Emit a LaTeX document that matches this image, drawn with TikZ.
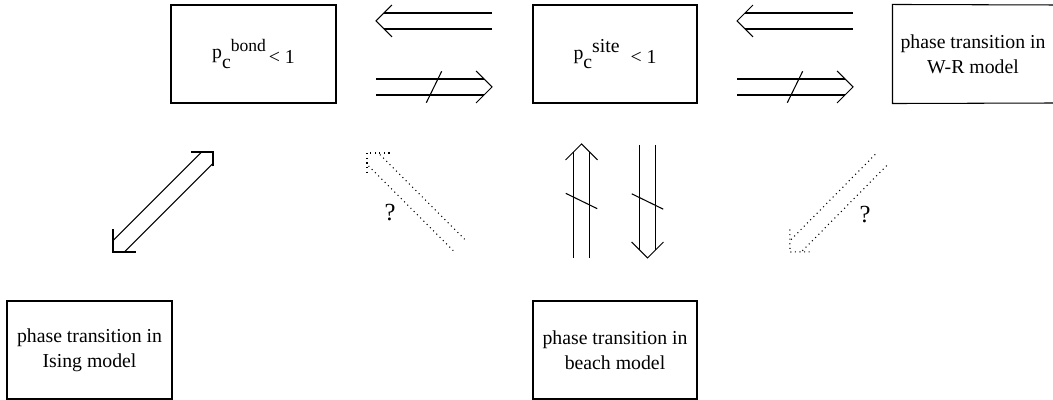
\documentclass[tikz,border=0pt]{standalone}
\usepackage{fontspec}
\setmainfont{Liberation Serif}
\usetikzlibrary{calc}

\newcommand{\gapw}{0.16cm}
\newcommand{\headw}{0.45cm}
% open head at #2, coming from #1
\newcommand{\openhead}[3][]{%
  \draw[#1] ($(#3)!\headw!45:(#2)$) -- (#3) -- ($(#3)!\headw!-45:(#2)$);}
% two parallel lines from #2 to #3 with a head at #3
\newcommand{\twoline}[3][]{%
  \draw[#1,shorten >=\gapw] ($(#2)!\gapw!90:(#3)$) -- ($(#3)!\gapw!-90:(#2)$);
  \draw[#1,shorten >=\gapw] ($(#2)!\gapw!-90:(#3)$) -- ($(#3)!\gapw!90:(#2)$);
  \openhead[#1]{#2}{#3}}
% stroke across the middle
\newcommand{\crossout}[2]{%
  \draw ($($(#1)!0.5!(#2)$)!0.35cm!64:(#2)$) -- ($($(#1)!0.5!(#2)$)!0.35cm!244:(#2)$);}

\begin{document}
\begin{tikzpicture}[line width=0.6pt,
  box/.style={draw, align=center, inner sep=0pt, minimum width=3.3cm, minimum height=1.96cm,
    font=\fontsize{11.25}{14.2}\selectfont},
  qmark/.style={font=\fontsize{14}{16}\selectfont}]
\useasboundingbox (0,0) rectangle (21.06,8);

% boxes
\node[box] (bond) at (5.07,6.92) {p\raisebox{-5.6pt}{c}\raisebox{4pt}{\fontsize{10}{12}\selectfont bond}\hspace{0.15em}\raisebox{-2.8pt}{< 1}};
\node[box, minimum width=3.28cm] (site) at (12.30,6.92) {p\raisebox{-5.6pt}{c}\raisebox{4pt}{site}\hspace{0.55em}\raisebox{-2.8pt}{< 1}};
\node[box, draw=none, minimum width=3.2cm] (wr) at (19.46,6.92) {phase transition in\\W-R model};
\draw (21.10,7.90) -- (wr.north west) -- (wr.south west) -- (21.10,5.94);
\node[box] (ising) at (1.79,1.0) {phase transition in\\Ising model};
\node[box, minimum width=3.28cm] (beach) at (12.30,1.0) {phase transition in\\beach model};

% arrow ends
\coordinate (a1) at (9.84,7.58);
\coordinate (a2) at (7.52,7.58);
\coordinate (b1) at (7.52,6.26);
\coordinate (b2) at (9.84,6.26);
\coordinate (c1) at (17.06,7.58);
\coordinate (c2) at (14.74,7.58);
\coordinate (d1) at (14.74,6.26);
\coordinate (d2) at (17.06,6.26);
\coordinate (up1) at (11.63,2.84);
\coordinate (up2) at (11.63,5.12);
\coordinate (dn1) at (12.95,5.10);
\coordinate (dn2) at (12.95,2.84);
\coordinate (ib1) at (2.26,2.96);
\coordinate (ib2) at (4.26,4.96);
\coordinate (q1a) at (9.18,3.10);
\coordinate (q1b) at (7.34,4.94);
\coordinate (q2a) at (17.62,4.80);
\coordinate (q2b) at (15.80,2.96);

% top row
\twoline{a1}{a2}
\twoline{b1}{b2}
\crossout{b1}{b2}
\twoline{c1}{c2}
\twoline{d1}{d2}
\crossout{d1}{d2}

% middle row
\twoline[shorten <=\gapw]{ib1}{ib2}
\openhead{ib2}{ib1}
\twoline[dotted]{q1a}{q1b}
\twoline{up1}{up2}
\crossout{up1}{up2}
\twoline{dn1}{dn2}
\crossout{dn1}{dn2}
\twoline[dotted]{q2a}{q2b}

\node[qmark] (qa) at (7.80,3.74) {?};
\node[qmark] (qb) at (17.30,3.70) {?};
\end{tikzpicture}
\end{document}
